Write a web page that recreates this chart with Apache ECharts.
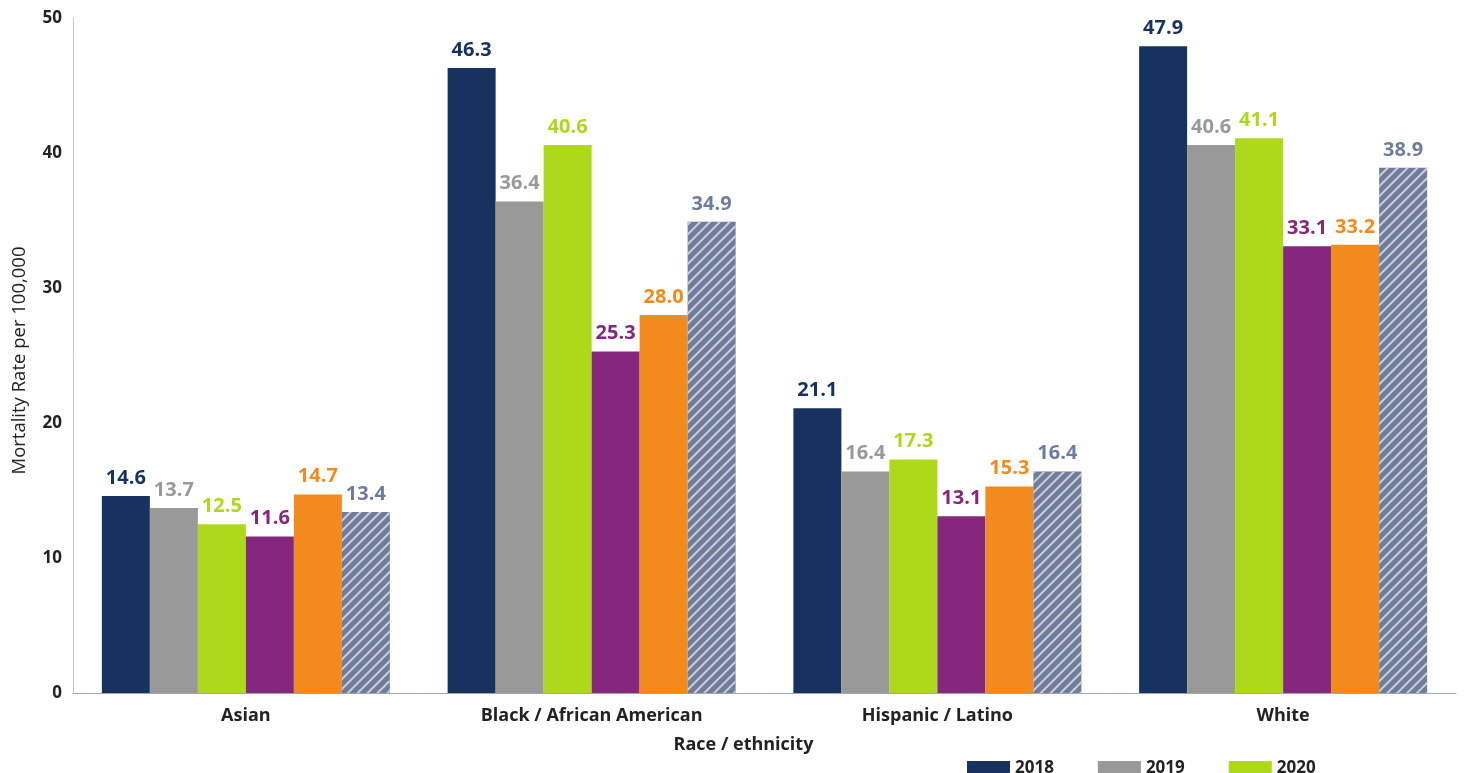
<!DOCTYPE html>
<html>
<head>
<meta charset="utf-8">
<script src="https://cdn.jsdelivr.net/npm/echarts@6/dist/echarts.min.js"></script>
<style>
html,body{margin:0;padding:0;background:#fff;}
#chart{width:1483px;height:773px;}
</style>
</head>
<body>
<div id="chart"></div>
<script>
var categories = ['Asian', 'Black / African American', 'Hispanic / Latino', 'White'];
var seriesNames = ['2018', '2019', '2020', '2021', '2022', '2023'];
var values2018 = [14.6, 46.3, 21.1, 47.9];
var values2019 = [13.7, 36.4, 16.4, 40.6];
var values2020 = [12.5, 40.6, 17.3, 41.1];
var values2021 = [11.6, 25.3, 13.1, 33.1];
var values2022 = [14.7, 28.0, 15.3, 33.2];
var values2023 = [13.4, 34.9, 16.4, 38.9];
var legendItems = ['2018', '2019', '2020'];
var yTicks = [0, 10, 20, 30, 40, 50];

var allValues = [values2018, values2019, values2020, values2021, values2022, values2023];
var colors = ['#17325f', '#999999', '#add81b', '#84277d', '#f28a1e', '#6e7ca0'];
var labelColors = ['#17325f', '#999999', '#add81b', '#84277d', '#f28a1e', '#6e7ca0'];

var FONT = '"Open Sans", "Noto Sans", sans-serif';

var series = allValues.map(function (vals, i) {
  var s = {
    name: seriesNames[i],
    type: 'bar',
    data: vals,
    barWidth: 48,
    barGap: '0%',
    itemStyle: { color: colors[i] },
    label: {
      show: true,
      position: 'top',
      distance: 8,
      color: labelColors[i],
      fontFamily: FONT,
      fontWeight: 'bold',
      fontSize: 20,
      formatter: function (p) { return Number(p.value).toFixed(1); }
    }
  };
  if (i === 5) {
    s.itemStyle.decal = {
      symbol: 'rect',
      symbolSize: 1,
      color: '#cfcfcf',
      dashArrayX: [1, 0],
      dashArrayY: [2, 5],
      rotation: -Math.PI / 4
    };
  }
  return s;
});

var chart = echarts.init(document.getElementById('chart'));
chart.setOption({
  animation: false,
  backgroundColor: '#fff',
  grid: { left: 73, right: 27, top: 18, bottom: 80, containLabel: false, outerBoundsMode: 'none' },
  legend: {
    data: legendItems,
    left: 962,
    top: 755,
    itemWidth: 43,
    itemHeight: 15,
    itemGap: 44,
    icon: 'rect',
    textStyle: { fontFamily: FONT, fontSize: 17, fontWeight: 'bold', color: '#222' }
  },
  xAxis: {
    type: 'category',
    data: categories,
    name: 'Race / ethnicity',
    nameLocation: 'middle',
    nameGap: 43,
    nameTextStyle: { fontFamily: FONT, fontSize: 18, fontWeight: 'bold', color: '#222', padding: [0, 42, 0, 0] },
    axisLine: { lineStyle: { color: '#a6a6a6', width: 1 } },
    axisTick: { show: false },
    axisLabel: { fontFamily: FONT, fontSize: 18, fontWeight: 'bold', color: '#222', margin: 14 }
  },
  yAxis: {
    type: 'value',
    min: yTicks[0],
    max: yTicks[yTicks.length - 1],
    interval: 10,
    name: 'Mortality Rate per 100,000',
    nameLocation: 'middle',
    nameGap: 44,
    nameTextStyle: { fontFamily: FONT, fontSize: 18.5, color: '#222', padding: [0, 10, 0, 0] },
    axisLine: { show: true, lineStyle: { color: '#c8c8c8', width: 1 } },
    axisTick: { show: false },
    splitLine: { show: false },
    axisLabel: { fontFamily: FONT, fontSize: 17, fontWeight: 'bold', color: '#222', margin: 11 }
  },
  series: series
});
</script>
</body>
</html>
